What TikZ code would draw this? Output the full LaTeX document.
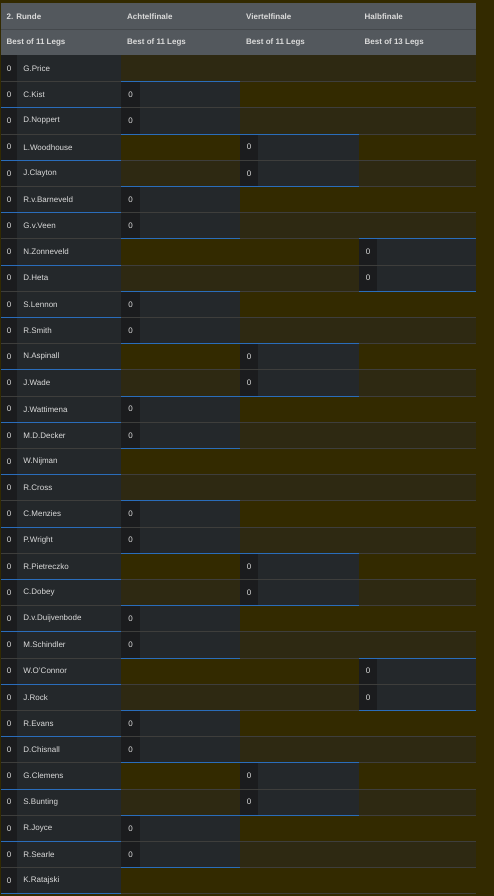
\documentclass[tikz,border=0pt]{standalone}
\usepackage{fontspec}
\setmainfont{Liberation Sans}
\definecolor{bgolive}{HTML}{332A00}
\definecolor{stripe}{HTML}{2E2912}
\definecolor{hdr}{HTML}{53585D}
\definecolor{hdrline}{HTML}{44484C}
\definecolor{namecell}{HTML}{24282B}
\definecolor{scorecell}{HTML}{1B1C1E}
\definecolor{rowline}{HTML}{3E3E3C}
\definecolor{bluel}{HTML}{2A6DBB}
\definecolor{txt}{HTML}{DCDCDC}
\begin{document}
\begin{tikzpicture}[x=1pt,y=-1pt,
  hdrtext/.style={anchor=west,text=txt,font=\fontsize{8}{9.6}\selectfont\bfseries,inner sep=0pt},
  nametext/.style={anchor=west,text=txt,font=\fontsize{8}{9.6}\selectfont,inner sep=0pt},
  scoretext/.style={text=txt,font=\fontsize{8}{9.6}\selectfont,inner sep=0pt},
  gline/.style={draw=rowline,line width=1pt},
  bline/.style={draw=bluel,line width=1pt}]
\useasboundingbox (0,0) rectangle (494,896);
\fill[bgolive] (0,0) rectangle (494,896);
% header
\fill[hdr] (1,3.5) rectangle (476,55.5);
\draw[draw=hdrline,line width=1pt] (1,29.5) -- (476,29.5);
\draw[draw=hdrline,line width=1pt] (1,55.5) -- (476,55.5);
\node[hdrtext] (h1) at (6.5,16.5) {2. Runde};
\node[hdrtext] (h2) at (127,16.5) {Achtelfinale};
\node[hdrtext] (h3) at (246,16.5) {Viertelfinale};
\node[hdrtext] (h4) at (364.5,16.5) {Halbfinale};
\node[hdrtext] (b1) at (6.5,42.5) {Best of 11 Legs};
\node[hdrtext] (b2) at (127,42.5) {Best of 11 Legs};
\node[hdrtext] (b3) at (246,42.5) {Best of 11 Legs};
\node[hdrtext] (b4) at (364.5,42.5) {Best of 13 Legs};
% stripes in empty area
\foreach \i in {0,2,...,30}
  \fill[stripe] (121,{55.5+26.2*\i}) rectangle (476,{55.5+26.2*(\i+1)});
% column 1 cells and texts
\foreach \nm [count=\j from 0] in {G.Price,C.Kist,D.Noppert,L.Woodhouse,J.Clayton,R.v.Barneveld,G.v.Veen,N.Zonneveld,D.Heta,S.Lennon,R.Smith,N.Aspinall,J.Wade,J.Wattimena,M.D.Decker,W.Nijman,R.Cross,C.Menzies,P.Wright,R.Pietreczko,C.Dobey,D.v.Duijvenbode,M.Schindler,W.O'Connor,J.Rock,R.Evans,D.Chisnall,G.Clemens,S.Bunting,R.Joyce,R.Searle,K.Ratajski}{
  \fill[namecell] (1,{55.5+26.2*\j}) rectangle (121,{55.5+26.2*(\j+1)});
  \fill[scorecell] (1,{55.5+26.2*\j}) rectangle (17,{55.5+26.2*(\j+1)});
  \node[scoretext] (sa\j) at (9,{55.5+26.2*\j+13.1}) {0};
  \node[nametext] (na\j) at (23.2,{55.5+26.2*\j+13.1}) {\nm};
}
% column 2
\foreach \j in {1,2,5,6,9,10,13,14,17,18,21,22,25,26,29,30}{
  \fill[namecell] (121,{55.5+26.2*\j}) rectangle (240,{55.5+26.2*(\j+1)});
  \fill[scorecell] (121,{55.5+26.2*\j}) rectangle (140,{55.5+26.2*(\j+1)});
  \node[scoretext] (sb\j) at (130.5,{55.5+26.2*\j+13.1}) {0};
}
% column 3
\foreach \j in {3,4,11,12,19,20,27,28}{
  \fill[namecell] (240,{55.5+26.2*\j}) rectangle (359,{55.5+26.2*(\j+1)});
  \fill[scorecell] (240,{55.5+26.2*\j}) rectangle (258,{55.5+26.2*(\j+1)});
  \node[scoretext] (sc\j) at (249,{55.5+26.2*\j+13.1}) {0};
}
% column 4
\foreach \j in {7,8,23,24}{
  \fill[namecell] (359,{55.5+26.2*\j}) rectangle (476,{55.5+26.2*(\j+1)});
  \fill[scorecell] (359,{55.5+26.2*\j}) rectangle (377,{55.5+26.2*(\j+1)});
  \node[scoretext] (sd\j) at (368,{55.5+26.2*\j+13.1}) {0};
}
% gray row lines
\foreach \k in {1,...,32}
  \draw[gline] (1,{55.5+26.2*\k}) -- (476,{55.5+26.2*\k});
% blue lines
\foreach \k in {2,4,...,32}
  \draw[bline] (1,{55.5+26.2*\k}) -- (121,{55.5+26.2*\k});
\foreach \k in {1,3,5,7,9,11,13,15,17,19,21,23,25,27,29,31}
  \draw[bline] (121,{55.5+26.2*\k}) -- (240,{55.5+26.2*\k});
\foreach \k in {3,5,11,13,19,21,27,29}
  \draw[bline] (240,{55.5+26.2*\k}) -- (359,{55.5+26.2*\k});
\foreach \k in {7,9,23,25}
  \draw[bline] (359,{55.5+26.2*\k}) -- (476,{55.5+26.2*\k});
\end{tikzpicture}
\end{document}
